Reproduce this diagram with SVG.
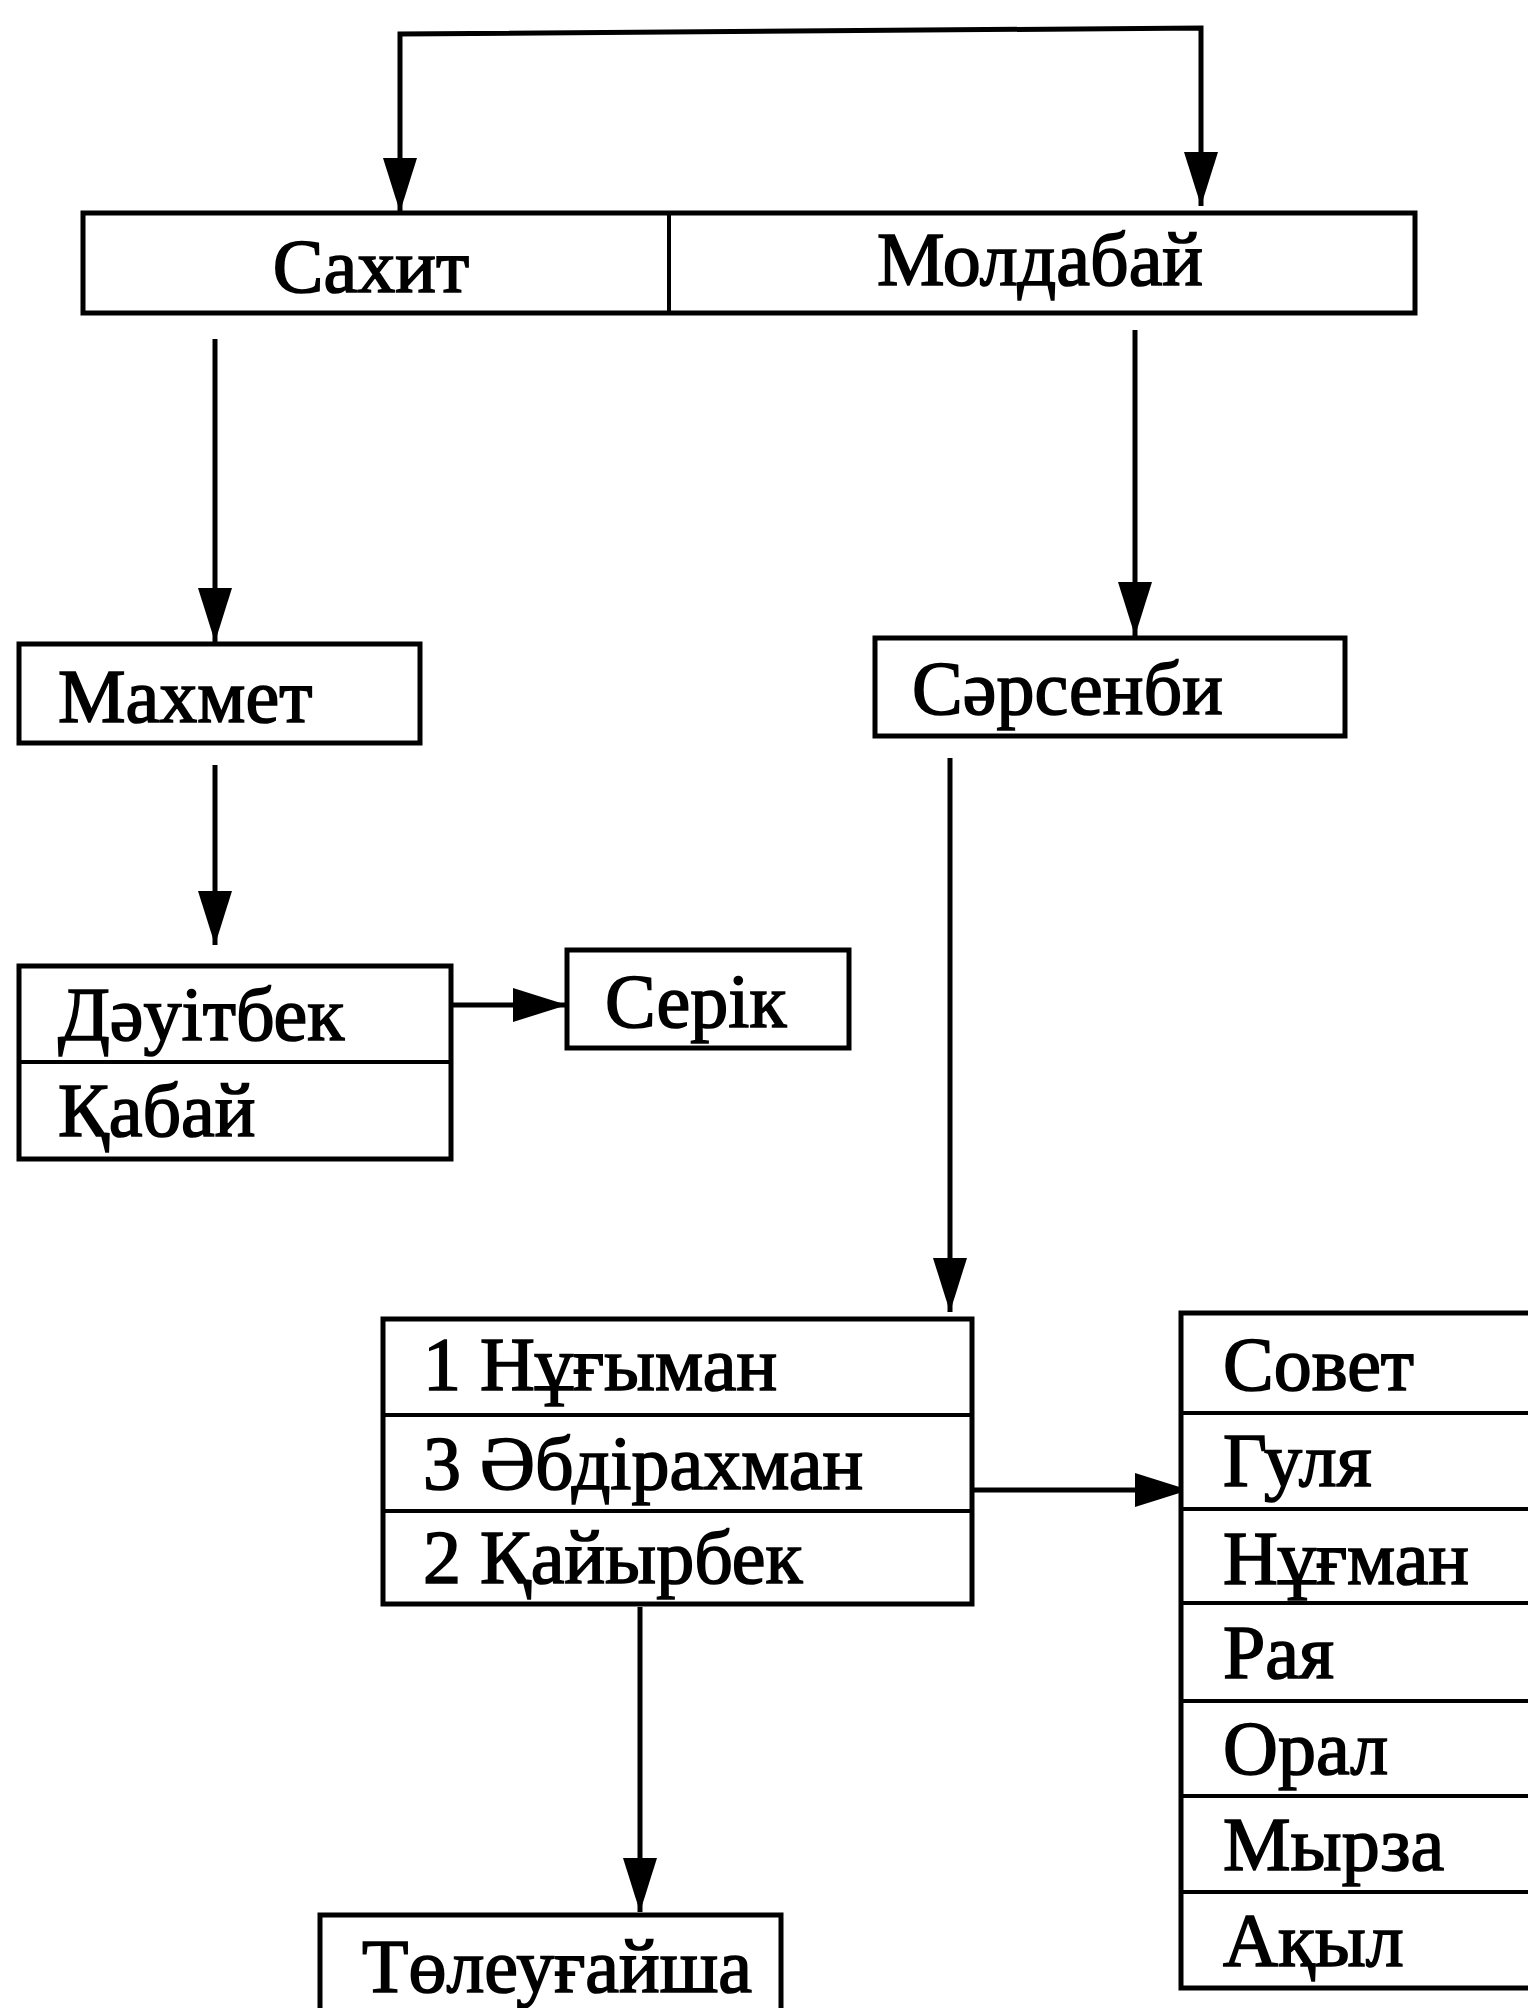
<svg xmlns="http://www.w3.org/2000/svg" width="1528" height="2008" viewBox="0 0 1528 2008">
<style>
.box{fill:#fff;stroke:#000;stroke-width:5}
.div{stroke:#000;stroke-width:4}
.t{font-family:"Liberation Serif","DejaVu Serif",serif;font-size:76px;fill:#000;stroke:#000;stroke-width:1.6}
.c{stroke:#000;stroke-width:5;fill:none}
</style>
<defs>
<marker id="ah" viewBox="0 0 54 34" refX="54" refY="17" markerWidth="54" markerHeight="34" markerUnits="userSpaceOnUse" orient="auto-start-reverse">
<path d="M0,0 L54,17 L0,34 Z" fill="#000"/>
</marker>
</defs>
<rect width="1528" height="2008" fill="#fff"/>
<g id="connectors">
<polyline class="c" points="400,212 400,34 1201,28 1201,206" marker-start="url(#ah)" marker-end="url(#ah)"/>
<line class="c" x1="215" y1="339" x2="215" y2="642" marker-end="url(#ah)"/>
<line class="c" x1="1135" y1="330" x2="1135" y2="636" marker-end="url(#ah)"/>
<line class="c" x1="215" y1="765" x2="215" y2="945" marker-end="url(#ah)"/>
<line class="c" x1="451" y1="1005" x2="567" y2="1005" marker-end="url(#ah)"/>
<line class="c" x1="950" y1="758" x2="950" y2="1312" marker-end="url(#ah)"/>
<line class="c" x1="948" y1="1490" x2="1189" y2="1490" marker-end="url(#ah)"/>
<line class="c" x1="640" y1="1607" x2="640" y2="1912" marker-end="url(#ah)"/>
</g>
<g id="n-top">
<rect class="box" x="83" y="213" width="1332" height="100"/>
<line class="div" x1="669" y1="213" x2="669" y2="313"/>
<text class="t" x="371" y="292" text-anchor="middle">Сахит</text>
<text class="t" x="1040" y="285" text-anchor="middle">Молдабай</text>
</g>
<g id="n-makhmet">
<rect class="box" x="19" y="644" width="401" height="99"/>
<text class="t" x="58" y="722">Махмет</text>
</g>
<g id="n-sarsenbi">
<rect class="box" x="875" y="638" width="470" height="98"/>
<text class="t" x="912" y="714">Сәрсенби</text>
</g>
<g id="n-dauitbek">
<rect class="box" x="19" y="966" width="432" height="193"/>
<line class="div" x1="19" y1="1062" x2="451" y2="1062"/>
<text class="t" x="58" y="1040">Дәуітбек</text>
<text class="t" x="58" y="1136">Қабай</text>
</g>
<g id="n-serik">
<rect class="box" x="567" y="950" width="282" height="98"/>
<text class="t" x="605" y="1027">Серік</text>
</g>
<g id="n-sons">
<rect class="box" x="383" y="1319" width="589" height="285"/>
<line class="div" x1="383" y1="1415" x2="972" y2="1415"/>
<line class="div" x1="383" y1="1511" x2="972" y2="1511"/>
<text class="t" x="423" y="1390">1 Нұғыман</text>
<text class="t" x="423" y="1489">3 Әбдірахман</text>
<text class="t" x="423" y="1583">2 Қайырбек</text>
</g>
<g id="n-children">
<rect class="box" x="1181" y="1313" width="360" height="675"/>
<line class="div" x1="1181" y1="1413" x2="1528" y2="1413"/>
<line class="div" x1="1181" y1="1509" x2="1528" y2="1509"/>
<line class="div" x1="1181" y1="1603" x2="1528" y2="1603"/>
<line class="div" x1="1181" y1="1701" x2="1528" y2="1701"/>
<line class="div" x1="1181" y1="1796" x2="1528" y2="1796"/>
<line class="div" x1="1181" y1="1892" x2="1528" y2="1892"/>
<text class="t" x="1223" y="1390">Совет</text>
<text class="t" x="1223" y="1486">Гуля</text>
<text class="t" x="1223" y="1584">Нұғман</text>
<text class="t" x="1223" y="1678">Рая</text>
<text class="t" x="1223" y="1774">Орал</text>
<text class="t" x="1223" y="1870">Мырза</text>
<text class="t" x="1223" y="1966">Ақыл</text>
</g>
<g id="n-toleugaisha">
<rect class="box" x="320" y="1915" width="461" height="110"/>
<text class="t" x="362" y="1992">Төлеуғайша</text>
</g>
</svg>
